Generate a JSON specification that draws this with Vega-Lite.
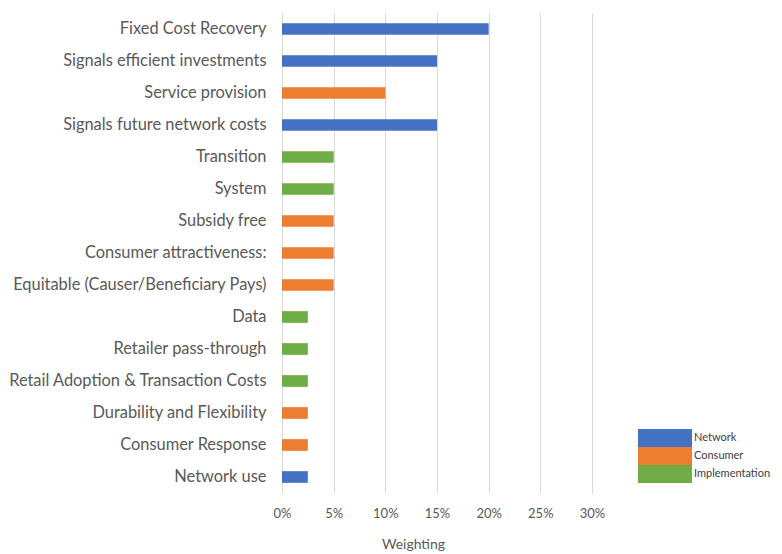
{
  "$schema": "https://vega.github.io/schema/vega-lite/v6.json",
  "width": 310,
  "height": 480,
  "autosize": "none",
  "padding": {"left": 282, "top": 13, "right": 190, "bottom": 61},
  "background": "white",
  "data": {
    "values": [
      {"criterion": "Fixed Cost Recovery", "group": "Network", "weight": 0.20},
      {"criterion": "Signals efficient investments\u00a0", "group": "Network", "weight": 0.15},
      {"criterion": "Service provision", "group": "Consumer", "weight": 0.10},
      {"criterion": "Signals future network costs\u00a0", "group": "Network", "weight": 0.15},
      {"criterion": "Transition", "group": "Implementation", "weight": 0.05},
      {"criterion": "System", "group": "Implementation", "weight": 0.05},
      {"criterion": "Subsidy free", "group": "Consumer", "weight": 0.05},
      {"criterion": "Consumer attractiveness:", "group": "Consumer", "weight": 0.05},
      {"criterion": "Equitable (Causer/Beneficiary Pays)", "group": "Consumer", "weight": 0.05},
      {"criterion": "Data", "group": "Implementation", "weight": 0.025},
      {"criterion": "Retailer pass-through", "group": "Implementation", "weight": 0.025},
      {"criterion": "Retail Adoption & Transaction Costs", "group": "Implementation", "weight": 0.025},
      {"criterion": "Durability and Flexibility", "group": "Consumer", "weight": 0.025},
      {"criterion": "Consumer Response", "group": "Consumer", "weight": 0.025},
      {"criterion": "Network use", "group": "Network", "weight": 0.025}
    ]
  },
  "mark": {"type": "bar"},
  "encoding": {
    "y": {
      "field": "criterion",
      "type": "nominal",
      "sort": null,
      "scale": {"paddingInner": 0.635, "paddingOuter": 0.3175},
      "axis": {
        "title": null,
        "ticks": false,
        "domain": true,
        "domainColor": "#d9d9d9",
        "domainWidth": 1,
        "labelFont": "Lato",
        "labelFontSize": 16.4,
        "labelColor": "#595959",
        "labelPadding": 16,
        "labelLimit": 400
      }
    },
    "x": {
      "field": "weight",
      "type": "quantitative",
      "scale": {"domain": [0, 0.3], "nice": false},
      "axis": {
        "format": ".0%",
        "values": [0, 0.05, 0.1, 0.15, 0.2, 0.25, 0.3],
        "domain": false,
        "ticks": false,
        "grid": true,
        "gridColor": "#d9d9d9",
        "gridWidth": 1,
        "labelFlush": false,
        "labelOverlap": false,
        "labelFont": "Lato",
        "labelFontSize": 13,
        "labelColor": "#595959",
        "labelPadding": 14,
        "title": "Weighting",
        "titleFont": "Lato",
        "titleFontSize": 14,
        "titleFontWeight": "normal",
        "titleColor": "#595959",
        "titleX": 131,
        "titleY": 44,
        "titleAlign": "center",
        "titleBaseline": "top"
      }
    },
    "color": {
      "field": "group",
      "type": "nominal",
      "scale": {
        "domain": ["Network", "Consumer", "Implementation"],
        "range": ["#4472C4", "#ED7D31", "#70AD47"]
      },
      "legend": {
        "title": null,
        "orient": "none",
        "legendX": 356,
        "legendY": 416,
        "symbolType": "M-1,-1H5V1H-1Z",
        "symbolSize": 324,
        "symbolStrokeWidth": 0,
        "symbolOpacity": 1,
        "labelOffset": 38,
        "rowPadding": 0,
        "padding": 0,
        "labelFont": "Lato",
        "labelFontSize": 11,
        "labelColor": "#404040"
      }
    }
  },
  "config": {"view": {"stroke": null}}
}
